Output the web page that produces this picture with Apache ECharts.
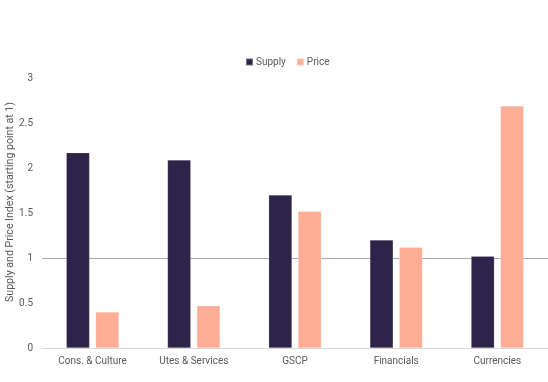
<!DOCTYPE html>
<html><head><meta charset="utf-8">
<script src="https://cdn.jsdelivr.net/npm/echarts@6/dist/echarts.min.js"></script>
<style>html,body{margin:0;padding:0;background:#fff}#c{width:548px;height:382px}</style>
</head><body><div id="c"></div>
<script>
const categories = ['Cons. & Culture', 'Utes & Services', 'GSCP', 'Financials', 'Currencies'];
const supply = [2.17, 2.09, 1.70, 1.20, 1.02];
const price = [0.40, 0.47, 1.52, 1.12, 2.69];
const yTicks = [0, 0.5, 1, 1.5, 2, 2.5, 3];
const baseline = 1;

const font = 'Roboto, "Noto Sans", sans-serif';
const lineColors = yTicks.map(v => v === baseline ? '#aaa7ba' : 'rgba(0,0,0,0)');
const chart = echarts.init(document.getElementById('c'), null, {renderer: 'canvas'});
chart.setOption({
  animation: false,
  textStyle: {fontFamily: font},
  legend: {
    top: 52, left: 240, itemWidth: 7, itemHeight: 7, itemGap: 10,
    icon: 'rect',
    textStyle: {fontSize: 10, color: '#595959', fontFamily: font, padding: [0,0,0,-2]},
    data: ['Supply', 'Price']
  },
  grid: {left: 42, right: 0, top: 78, bottom: 34, outerBoundsMode: 'none', containLabel: false},
  xAxis: {
    type: 'category', data: categories,
    axisLine: {lineStyle: {color: '#d9d9d9'}},
    axisTick: {show: false},
    axisLabel: {fontSize: 10, color: '#595959', margin: 8, fontFamily: font}
  },
  yAxis: {
    type: 'value', min: 0, max: 3, interval: 0.5,
    name: 'Supply and Price Index (starting point at 1)',
    nameLocation: 'middle', nameGap: 26, nameRotate: 90, nameMoveOverlap: false,
    nameTextStyle: {fontSize: 10.6, color: '#595959', fontFamily: font, padding: [0,0,0,22]},
    splitLine: {show: true, lineStyle: {color: lineColors, width: 1}},
    axisLine: {show: false}, axisTick: {show: false},
    axisLabel: {fontSize: 10, color: '#595959', margin: 9, fontFamily: font,
      formatter: v => yTicks.includes(v) ? String(v) : ''}
  },
  series: [
    {name: 'Supply', type: 'bar', data: supply, barWidth: '23%', barGap: '26%',
      itemStyle: {color: '#2e2449', borderColor: 'rgba(255,255,255,0.35)', borderWidth: 0.5}},
    {name: 'Price', type: 'bar', data: price, barWidth: '23%', barGap: '26%',
      itemStyle: {color: '#fdae94', borderColor: 'rgba(255,255,255,0.35)', borderWidth: 0.5}}
  ]
});
</script></body></html>
